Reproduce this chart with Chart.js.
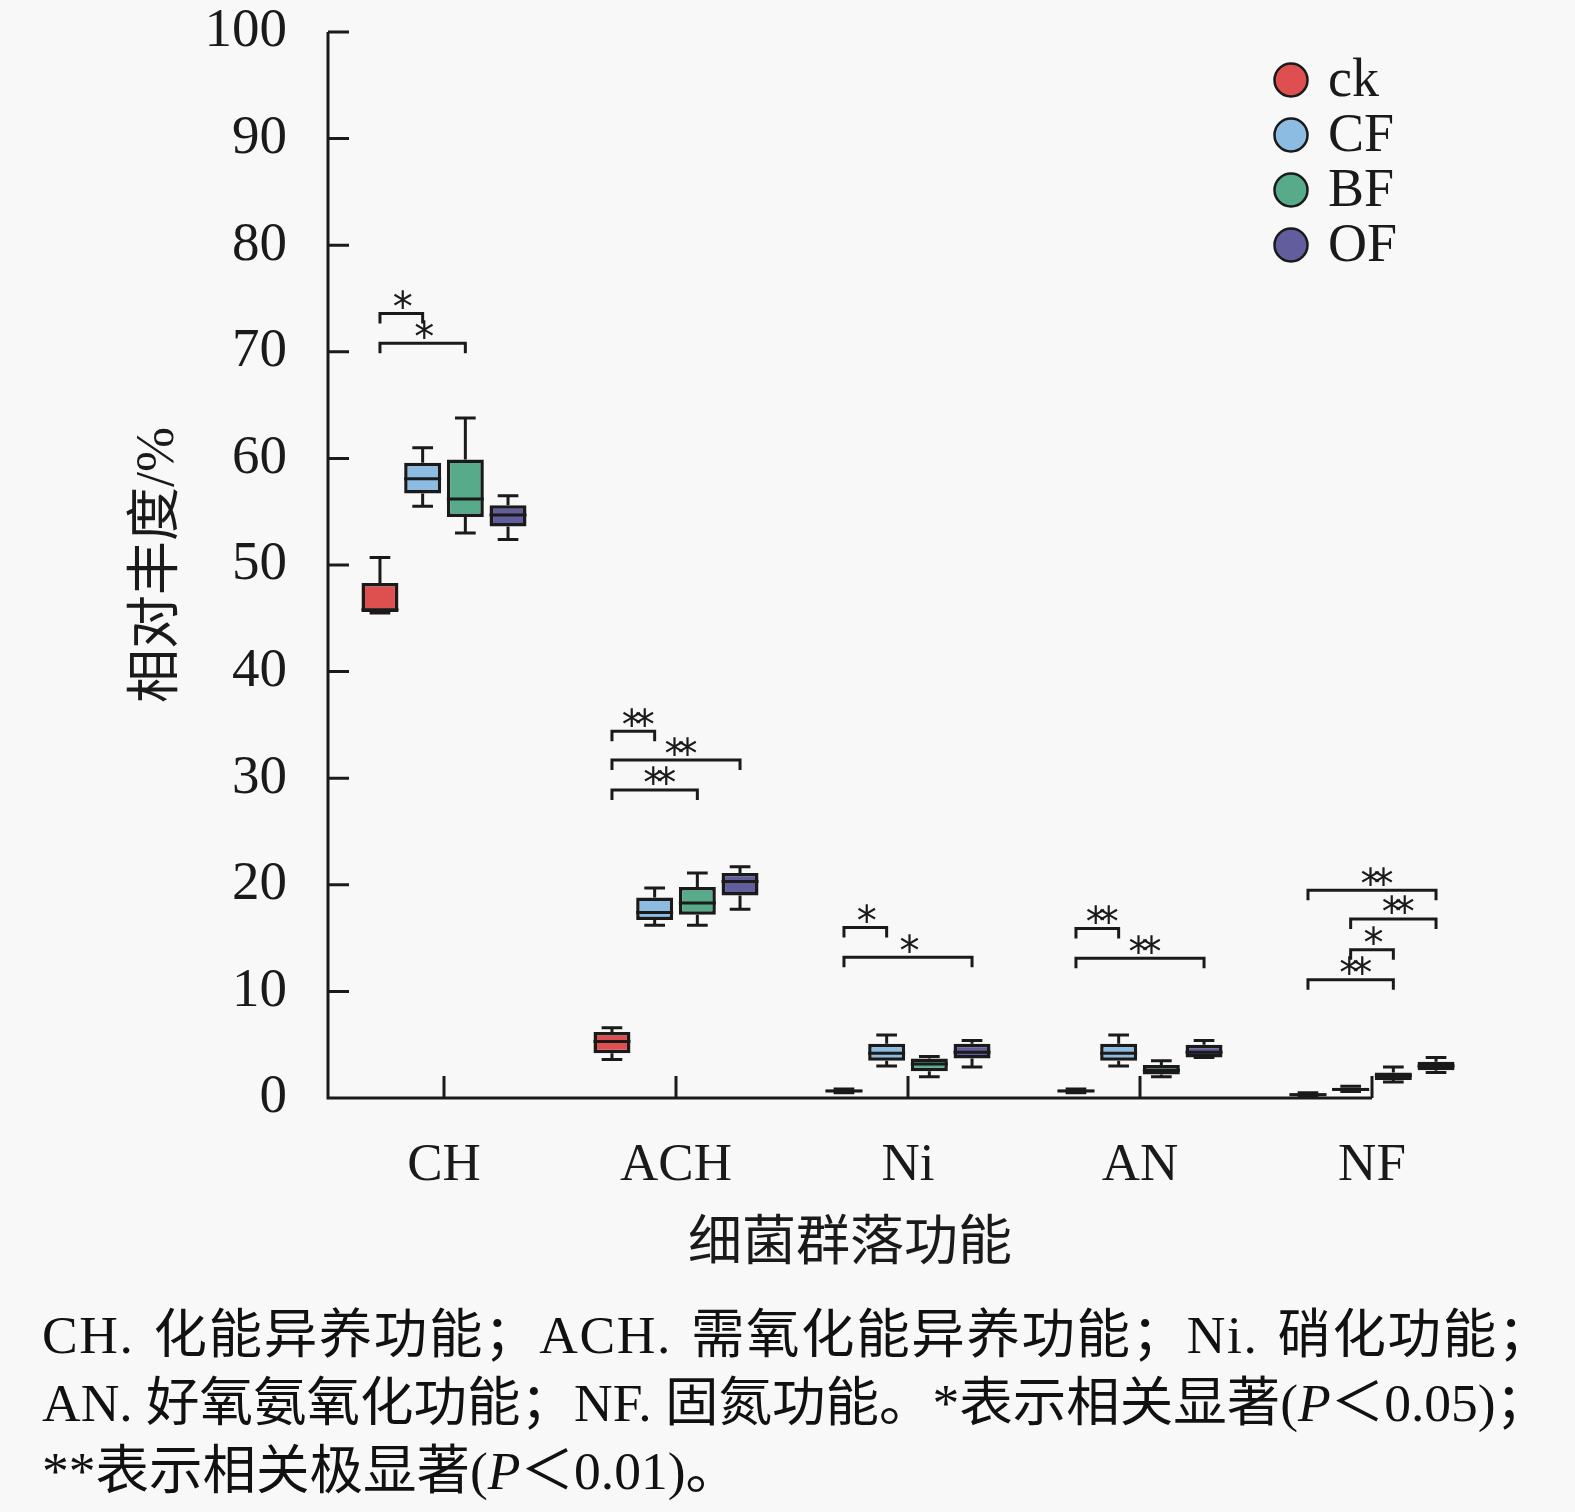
<!DOCTYPE html>
<html>
<head>
<meta charset="utf-8">
<script src="https://cdn.jsdelivr.net/npm/chart.js@4/dist/chart.umd.min.js"></script>
<style>
html, body { margin: 0; padding: 0; background: #f8f8f8; }
#wrap { position: relative; width: 1575px; height: 1512px; }
#chart { position: absolute; left: 0; top: 0; }
.note {
    position: absolute; left: 42px; top: 1301px;
    font-family: "Liberation Serif", "Noto Sans CJK SC";
    font-size: 53.5px; line-height: 68px; color: #111; white-space: nowrap;
}
.note .wide { letter-spacing: 1.6px; word-spacing: 4px; }
</style>
</head>
<body>
<div id="wrap">
    <canvas id="chart" width="1575" height="1290"></canvas>
    <div class="note">
        <div class="wide">CH. 化能异养功能；ACH. 需氧化能异养功能；Ni. 硝化功能；</div>
        <div>AN. 好氧氨氧化功能；NF. 固氮功能。*表示相关显著(<i>P</i>＜0.05)；</div>
        <div>**表示相关极显著(<i>P</i>＜0.01)。</div>
    </div>
</div>
<script>
// kategori fungsi dan kelompok perlakuan
const categories = ['CH', 'ACH', 'Ni', 'AN', 'NF'];
const groups = ['ck', 'CF', 'BF', 'OF'];
const groupColors = ['#de5050', '#8cbce2', '#58ab8a', '#625e9e'];
const xTitle = '细菌群落功能';

// tiap baris: [min, q1, median, q3, max] per kategori
const ckStats = [
    [45.5, 45.6, 45.8, 48.3, 50.7],
    [3.6, 4.2, 5.3, 6.2, 6.6],
    [0.5, 0.55, 0.65, 0.8, 0.85],
    [0.5, 0.55, 0.65, 0.8, 0.85],
    [0.15, 0.2, 0.3, 0.45, 0.5]
];
const cfStats = [
    [55.5, 56.7, 58.1, 59.6, 61.0],
    [16.2, 16.7, 17.4, 18.8, 19.7],
    [3.0, 3.5, 4.2, 5.1, 5.9],
    [3.0, 3.5, 4.2, 5.1, 5.9],
    [0.6, 0.7, 0.8, 0.95, 1.1]
];
const bfStats = [
    [53.0, 54.5, 56.2, 59.9, 63.8],
    [16.2, 17.2, 18.3, 19.8, 21.1],
    [2.0, 2.5, 3.2, 3.7, 3.9],
    [2.0, 2.2, 2.6, 3.1, 3.5],
    [1.5, 1.7, 2.1, 2.4, 2.9]
];
const ofStats = [
    [52.4, 53.6, 54.7, 55.6, 56.5],
    [17.7, 19.0, 20.3, 21.1, 21.7],
    [2.9, 3.7, 4.3, 5.1, 5.4],
    [3.8, 3.8, 4.3, 5.0, 5.4],
    [2.4, 2.6, 3.0, 3.4, 3.8]
];
const allStats = [ckStats, cfStats, bfStats, ofStats];

// tanda signifikansi: [kategori, kelompok awal, kelompok akhir, posisi y, label]
const sigMarks = [
    [0, 0, 1, 73.6, '*'],
    [0, 0, 2, 70.8, '*'],
    [1, 0, 1, 34.4, '**'],
    [1, 0, 3, 31.7, '**'],
    [1, 0, 2, 28.9, '**'],
    [2, 0, 1, 16.0, '*'],
    [2, 0, 3, 13.2, '*'],
    [3, 0, 1, 15.9, '**'],
    [3, 0, 3, 13.1, '**'],
    [4, 0, 3, 19.5, '**'],
    [4, 1, 3, 16.8, '**'],
    [4, 1, 2, 13.9, '*'],
    [4, 0, 2, 11.1, '**']
];

const yTicks = [0, 10, 20, 30, 40, 50, 60, 70, 80, 90, 100];

const serif = '"Liberation Serif", "Noto Sans CJK SC"';
const ink = '#1a1a1a';

// garis sumbu, tick ke arah dalam, dan judul sumbu x
const axisPlugin = {
    id: 'axisPlugin',
    afterDatasetsDraw(chart) {
        const { ctx, scales: { x, y } } = chart;
        const left = chart.chartArea.left;
        const bottom = y.getPixelForValue(0);
        const top = y.getPixelForValue(100);
        const right = x.getPixelForValue(categories.length - 1);
        ctx.save();
        ctx.strokeStyle = ink;
        ctx.lineWidth = 3;
        ctx.beginPath();
        ctx.moveTo(left, top);
        ctx.lineTo(left, bottom);
        ctx.lineTo(right, bottom);
        yTicks.forEach(v => {
            const py = y.getPixelForValue(v);
            ctx.moveTo(left, py);
            ctx.lineTo(left + 21, py);
        });
        categories.forEach((c, i) => {
            const px = x.getPixelForValue(i);
            ctx.moveTo(px, bottom);
            ctx.lineTo(px, bottom - 22);
        });
        ctx.stroke();

        ctx.font = '54px ' + serif;
        ctx.fillStyle = ink;
        ctx.textAlign = 'center';
        ctx.textBaseline = 'middle';
        ctx.fillText(xTitle, (left + right) / 2, x.bottom - 44);
        ctx.restore();
    }
};

// kumis, median, dan garis signifikansi
const boxPlugin = {
    id: 'boxPlugin',
    afterDatasetsDraw(chart) {
        const { ctx, scales: { y } } = chart;
        ctx.save();
        ctx.strokeStyle = ink;
        ctx.lineCap = 'butt';
        allStats.forEach((stats, di) => {
            const meta = chart.getDatasetMeta(di);
            meta.data.forEach((bar, ci) => {
                const [mn, q1, md, q3, mx] = stats[ci];
                const cx = bar.x;
                const w = bar.width;
                const cap = w * 0.28;
                ctx.lineWidth = 3;
                ctx.beginPath();
                ctx.moveTo(cx, y.getPixelForValue(q3));
                ctx.lineTo(cx, y.getPixelForValue(mx));
                ctx.moveTo(cx - cap, y.getPixelForValue(mx));
                ctx.lineTo(cx + cap, y.getPixelForValue(mx));
                ctx.moveTo(cx, y.getPixelForValue(q1));
                ctx.lineTo(cx, y.getPixelForValue(mn));
                ctx.moveTo(cx - cap, y.getPixelForValue(mn));
                ctx.lineTo(cx + cap, y.getPixelForValue(mn));
                ctx.stroke();
                ctx.beginPath();
                ctx.moveTo(cx - w / 2, y.getPixelForValue(md));
                ctx.lineTo(cx + w / 2, y.getPixelForValue(md));
                ctx.stroke();
            });
        });

        ctx.font = '40px "DejaVu Sans"';
        ctx.fillStyle = ink;
        ctx.textAlign = 'center';
        ctx.letterSpacing = '-7px';
        sigMarks.forEach(([ci, g1, g2, v, label]) => {
            const x1 = chart.getDatasetMeta(g1).data[ci].x;
            const x2 = chart.getDatasetMeta(g2).data[ci].x;
            const py = y.getPixelForValue(v);
            ctx.lineWidth = 3;
            ctx.beginPath();
            ctx.moveTo(x1, py + 10);
            ctx.lineTo(x1, py);
            ctx.lineTo(x2, py);
            ctx.lineTo(x2, py + 10);
            ctx.stroke();
            const m = ctx.measureText(label);
            const centerY = py - 14;
            const base = centerY + (m.actualBoundingBoxAscent - m.actualBoundingBoxDescent) / 2;
            const shift = label.length > 1 ? -3.5 : 0;
            ctx.fillText(label, (x1 + x2) / 2 - shift - 2, base);
        });
        ctx.restore();
    }
};

// legenda bulat di pojok kanan atas
const legendPlugin = {
    id: 'legendPlugin',
    afterDraw(chart) {
        const { ctx } = chart;
        ctx.save();
        ctx.font = '54px ' + serif;
        ctx.textAlign = 'left';
        ctx.textBaseline = 'middle';
        groups.forEach((name, i) => {
            const cy = 80 + i * 55;
            ctx.beginPath();
            ctx.arc(1291, cy, 16.5, 0, Math.PI * 2);
            ctx.fillStyle = groupColors[i];
            ctx.fill();
            ctx.lineWidth = 2.5;
            ctx.strokeStyle = ink;
            ctx.stroke();
            ctx.fillStyle = ink;
            ctx.fillText(name, 1328, cy + 2);
        });
        ctx.restore();
    }
};

new Chart(document.getElementById('chart'), {
    type: 'bar',
    data: {
        labels: categories,
        datasets: allStats.map((stats, i) => ({
            label: groups[i],
            data: stats.map(s => [s[1], s[3]]),
            backgroundColor: groupColors[i],
            borderColor: ink,
            borderWidth: 3.5,
            borderSkipped: false,
            categoryPercentage: 0.736,
            barPercentage: 0.866
        }))
    },
    options: {
        responsive: false,
        animation: false,
        layout: { padding: { top: 32, right: 87, left: 0, bottom: 0 } },
        plugins: {
            legend: { display: false },
            tooltip: { enabled: false }
        },
        scales: {
            x: {
                grid: { display: false },
                border: { display: false },
                ticks: {
                    color: ink,
                    padding: 28,
                    font: { family: serif, size: 53 }
                },
                afterFit(scale) {
                    scale.height = 192;
                    scale.paddingTop = 0;
                    scale.paddingBottom = 0;
                }
            },
            y: {
                min: 0,
                max: 100,
                grid: { display: false },
                border: { display: false },
                ticks: {
                    stepSize: 10,
                    color: ink,
                    padding: 33,
                    font: { family: serif, size: 55 }
                },
                title: {
                    display: true,
                    text: '相对丰度/%',
                    color: ink,
                    font: { family: serif, size: 54 },
                    padding: { top: 126, bottom: 0 }
                },
                afterFit(scale) {
                    scale.width = 328;
                    scale.paddingTop = 0;
                    scale.paddingBottom = 0;
                }
            }
        }
    },
    plugins: [axisPlugin, boxPlugin, legendPlugin]
});
</script>
</body>
</html>
